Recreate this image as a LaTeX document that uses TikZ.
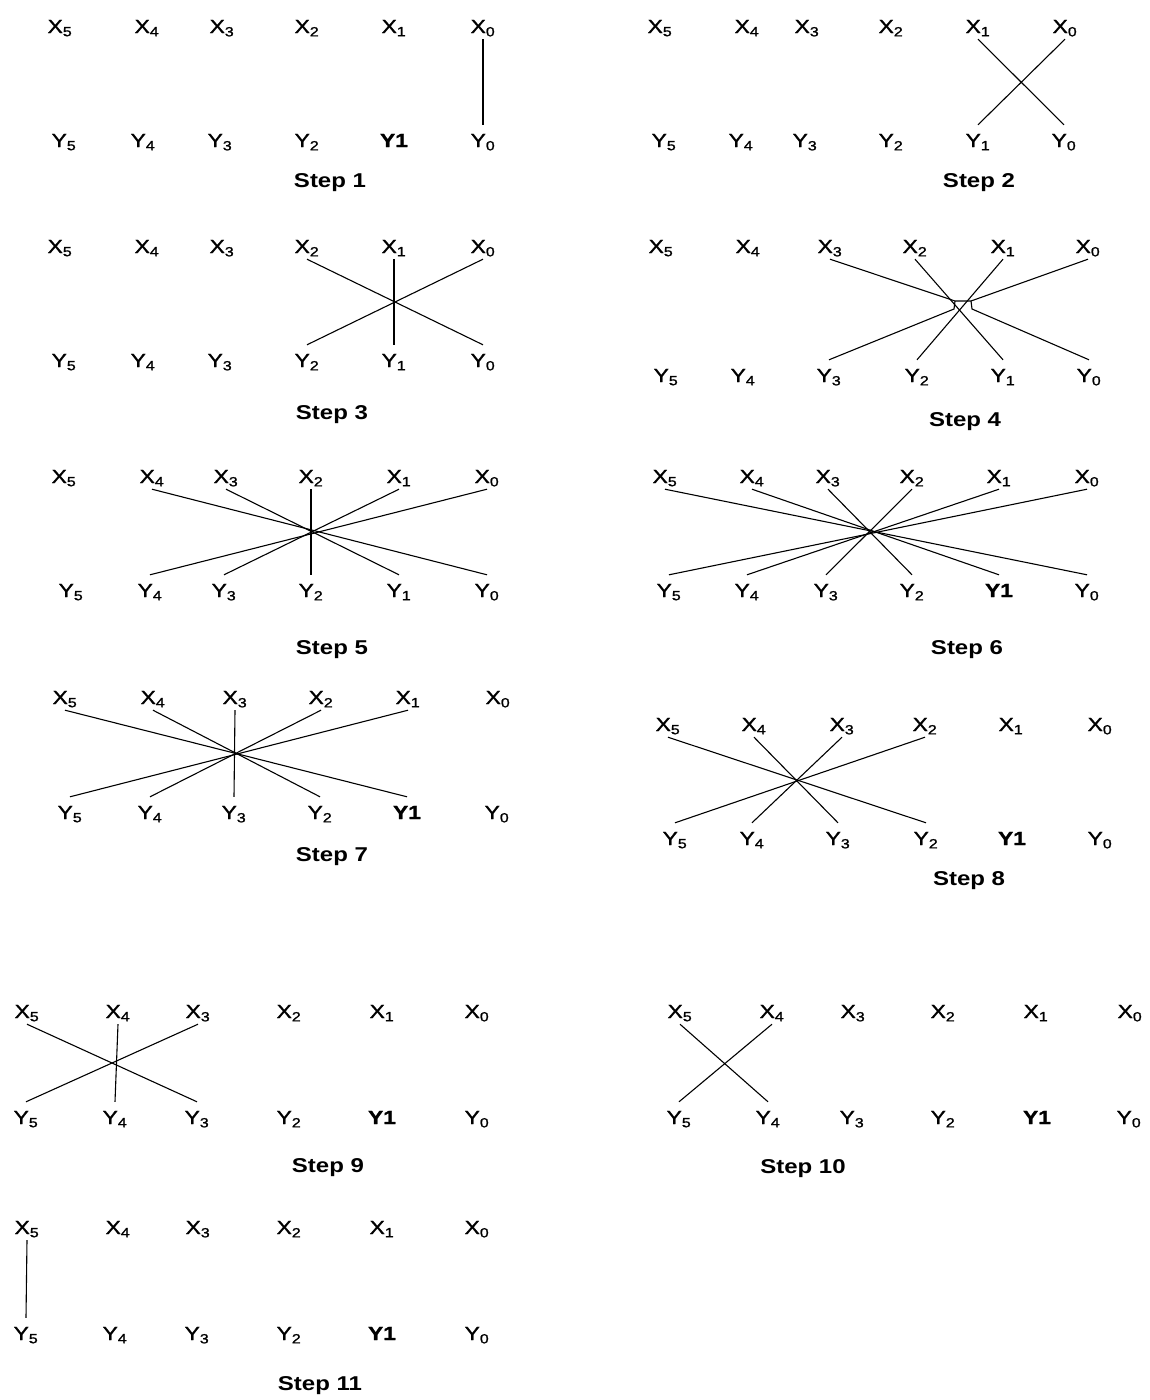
\documentclass[tikz,border=0pt]{standalone}
\usepackage{fontspec}
\setmainfont{Liberation Sans}
\newfontfamily\labfont[FakeBold=1.2]{Liberation Sans}
\tikzset{
  xlab/.style={anchor=base, inner sep=2pt, text height=13pt, text depth=4pt, font=\fontsize{19}{22}\labfont},
  ylab/.style={anchor=base, inner sep=2pt, text height=20pt, text depth=4pt, font=\fontsize{19}{22}\labfont},
  steplab/.style={inner sep=0pt, font=\fontsize{20}{24}\selectfont\bfseries},
  wire/.style={line width=1.1pt, black},
}
\newcommand\lbl[1]{\scalebox{1.2}[1]{#1}}
% #1 prefix, #2 baseline y, #3..#8 x of index 5..0
\newcommand\Xrow[8]{%
  \node[xlab] (#1X5) at (#3,#2) {\lbl{X\textsubscript{5}}};
  \node[xlab] (#1X4) at (#4,#2) {\lbl{X\textsubscript{4}}};
  \node[xlab] (#1X3) at (#5,#2) {\lbl{X\textsubscript{3}}};
  \node[xlab] (#1X2) at (#6,#2) {\lbl{X\textsubscript{2}}};
  \node[xlab] (#1X1) at (#7,#2) {\lbl{X\textsubscript{1}}};
  \node[xlab] (#1X0) at (#8,#2) {\lbl{X\textsubscript{0}}};
}
\newcommand\Yrow[8]{%
  \node[ylab] (#1Y5) at (#3,#2) {\lbl{Y\textsubscript{5}}};
  \node[ylab] (#1Y4) at (#4,#2) {\lbl{Y\textsubscript{4}}};
  \node[ylab] (#1Y3) at (#5,#2) {\lbl{Y\textsubscript{3}}};
  \node[ylab] (#1Y2) at (#6,#2) {\lbl{Y\textsubscript{2}}};
  \node[ylab] (#1Y1) at (#7,#2) {\lbl{Y\textsubscript{1}}};
  \node[ylab] (#1Y0) at (#8,#2) {\lbl{Y\textsubscript{0}}};
}
\newcommand\YrowB[8]{%
  \node[ylab] (#1Y5) at (#3,#2) {\lbl{Y\textsubscript{5}}};
  \node[ylab] (#1Y4) at (#4,#2) {\lbl{Y\textsubscript{4}}};
  \node[ylab] (#1Y3) at (#5,#2) {\lbl{Y\textsubscript{3}}};
  \node[ylab] (#1Y2) at (#6,#2) {\lbl{Y\textsubscript{2}}};
  \node[ylab] (#1Y1) at (#7,#2) {\lbl{\bfseries Y1}};
  \node[ylab] (#1Y0) at (#8,#2) {\lbl{Y\textsubscript{0}}};
}
\newcommand\link[3]{\draw[wire] (#1X#2.south) -- (#1Y#3.north);}
\begin{document}
\begin{tikzpicture}[x=1pt,y=-1pt]
\useasboundingbox[fill=white] (0,0) rectangle (1149,1400);

% Step 1
\Xrow{a}{33}{60}{147}{222}{307}{394}{483}
\YrowB{a}{147}{64}{143}{220}{307}{394}{483}
\link{a}{0}{0}
\node[steplab] (st1) at (330,183) {\scalebox{1.2}[1]{Step 1}};

% Step 2
\Xrow{b}{33}{660}{747}{807}{891}{978}{1065}
\Yrow{b}{147}{664}{741}{805}{891}{978}{1064}
\link{b}{1}{0}
\link{b}{0}{1}
\node[steplab] (st2) at (979,183) {\scalebox{1.2}[1]{Step 2}};

% Step 3
\Xrow{c}{253}{60}{147}{222}{307}{394}{483}
\Yrow{c}{367}{64}{143}{220}{307}{394}{483}
\link{c}{2}{0}
\link{c}{1}{1}
\link{c}{0}{2}
\node[steplab] (st3) at (332,415) {\scalebox{1.2}[1]{Step 3}};

% Step 4
\Xrow{d}{253}{661}{748}{830}{915}{1003}{1088}
\Yrow{d}{382}{666}{743}{829}{917}{1003}{1089}
\link{d}{2}{1}
\link{d}{1}{2}
\coordinate (h1) at (955,301);
\coordinate (h2) at (971,301);
\coordinate (h3) at (954,309);
\coordinate (h4) at (972,309);
\draw[wire] (dX3.south) -- (h1) -- (h2) -- (dX0.south);
\draw[wire] (dY3.north) -- (h3) -- (h1);
\draw[wire] (dY0.north) -- (h4) -- (h2);
\node[steplab] (st4) at (965,422) {\scalebox{1.2}[1]{Step 4}};

% Step 5
\Xrow{e}{483}{64}{152}{226}{311}{399}{487}
\Yrow{e}{597}{71}{150}{224}{311}{399}{487}
\link{e}{4}{0}
\link{e}{3}{1}
\link{e}{2}{2}
\link{e}{1}{3}
\link{e}{0}{4}
\node[steplab] (st5) at (332,650) {\scalebox{1.2}[1]{Step 5}};

% Step 6
\Xrow{f}{483}{665}{752}{828}{912}{999}{1087}
\YrowB{f}{597}{669}{747}{826}{912}{999}{1087}
\link{f}{5}{0}
\link{f}{4}{1}
\link{f}{3}{2}
\link{f}{2}{3}
\link{f}{1}{4}
\link{f}{0}{5}
\node[steplab] (st6) at (967,650) {\scalebox{1.2}[1]{Step 6}};

% Step 7
\Xrow{g}{704}{65}{153}{235}{321}{408}{498}
\YrowB{g}{819}{70}{150}{234}{320}{407}{497}
\link{g}{5}{1}
\link{g}{4}{2}
\link{g}{3}{3}
\link{g}{2}{4}
\link{g}{1}{5}
\node[steplab] (st7) at (332,857) {\scalebox{1.2}[1]{Step 7}};

% Step 8
\Xrow{h}{731}{668}{754}{842}{925}{1011}{1100}
\YrowB{h}{845}{675}{752}{838}{926}{1012}{1100}
\link{h}{5}{2}
\link{h}{4}{3}
\link{h}{3}{4}
\link{h}{2}{5}
\node[steplab] (st8) at (969,881) {\scalebox{1.2}[1]{Step 8}};

% Step 9
\Xrow{i}{1018}{27}{118}{198}{289}{382}{477}
\YrowB{i}{1124}{26}{115}{197}{289}{382}{477}
\link{i}{5}{3}
\link{i}{4}{4}
\link{i}{3}{5}
\node[steplab] (st9) at (328,1168) {\scalebox{1.2}[1]{Step 9}};

% Step 10
\Xrow{j}{1018}{680}{772}{853}{943}{1036}{1130}
\YrowB{j}{1124}{679}{768}{852}{943}{1037}{1129}
\link{j}{5}{4}
\link{j}{4}{5}
\node[steplab] (st10) at (803,1169) {\scalebox{1.2}[1]{Step 10}};

% Step 11
\Xrow{k}{1234}{27}{118}{198}{289}{382}{477}
\YrowB{k}{1340}{26}{115}{197}{289}{382}{477}
\link{k}{5}{5}
\node[steplab] (st11) at (320,1386) {\scalebox{1.2}[1]{Step 11}};
\end{tikzpicture}
\end{document}
